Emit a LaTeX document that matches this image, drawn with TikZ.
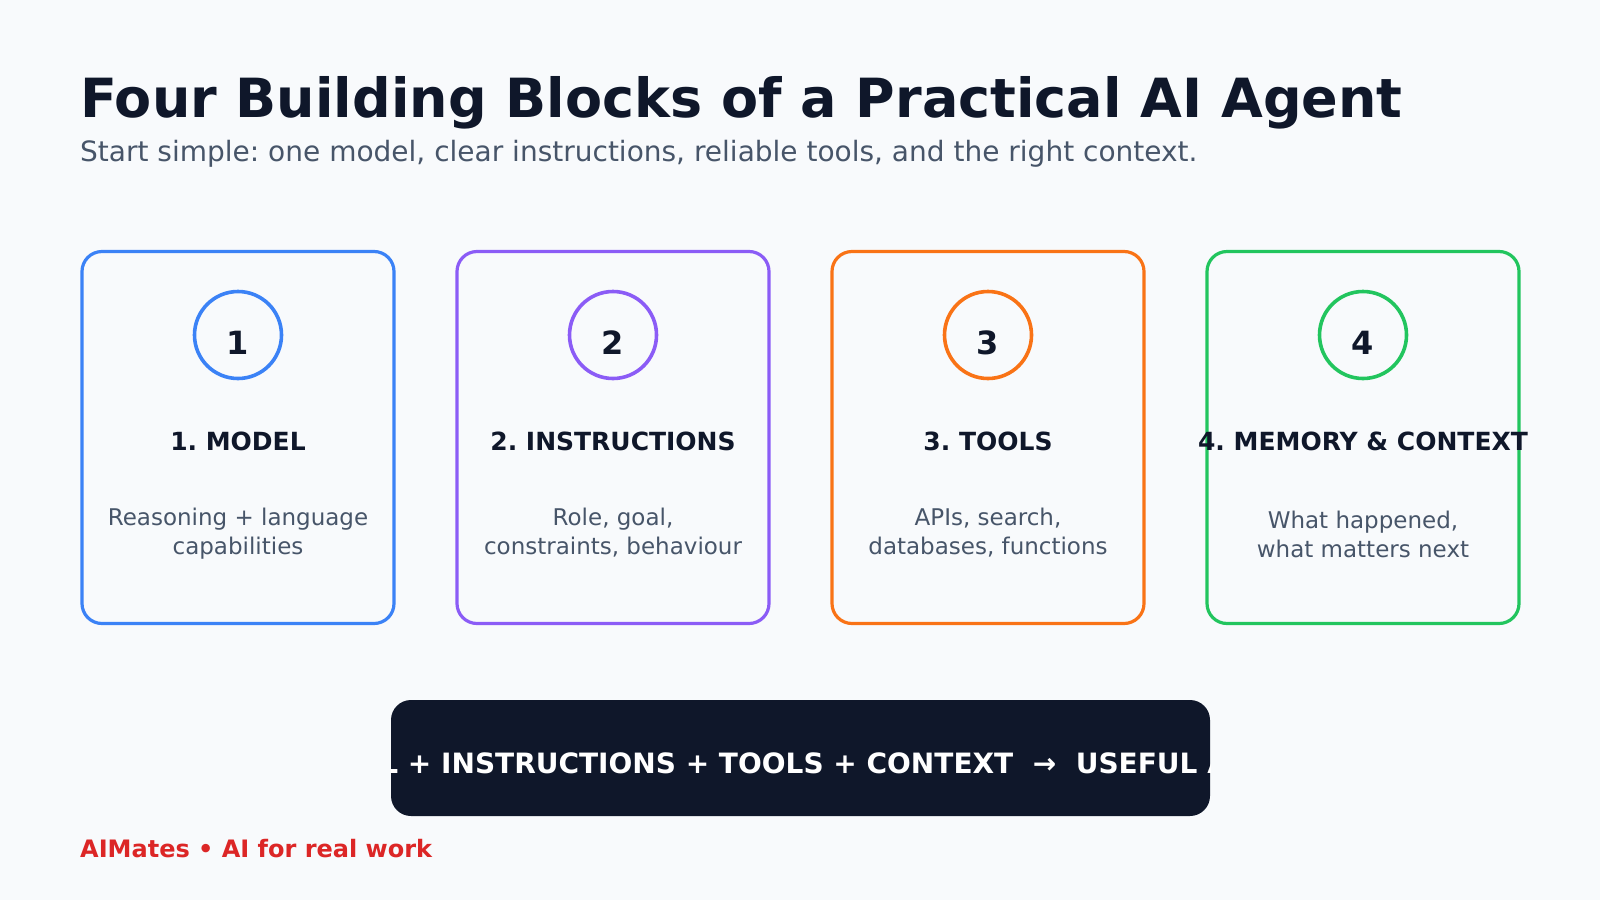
\documentclass[tikz,border=0pt]{standalone}
\usepackage{fontspec}
\setmainfont{DejaVu Sans}
\definecolor{bg}{HTML}{F8FAFC}
\definecolor{ink}{HTML}{0F172A}
\definecolor{muted}{HTML}{475569}
\definecolor{cblue}{HTML}{3B82F6}
\definecolor{cpurple}{HTML}{8B5CF6}
\definecolor{corange}{HTML}{F97316}
\definecolor{cgreen}{HTML}{22C55E}
\definecolor{cred}{HTML}{DC2626}
\newcommand{\fsz}[1]{\fontsize{#1}{#1}\selectfont}
\tikzset{
  card/.style={draw=#1, line width=3.2pt, rounded corners=20pt, minimum width=312pt, minimum height=372pt, inner sep=0pt, fill=bg},
  badge/.style={draw=#1, circle, line width=3.6pt, minimum size=87pt, inner sep=0pt},
  numtxt/.style={anchor=base, inner sep=0pt, text=ink, font=\fsz{32}\bfseries},
  headtxt/.style={anchor=base, inner sep=0pt, text=ink, font=\fsz{25}\bfseries},
  desctxt/.style={anchor=north, inner sep=0pt, text=muted, align=center, font=\fontsize{23}{29}\selectfont},
}
\begin{document}
\frenchspacing
\begin{tikzpicture}[x=1pt,y=-1pt]
\useasboundingbox[fill=bg] (0,0) rectangle (1600,900);
\node[anchor=base west, inner sep=0pt, text=ink, font=\fsz{54}\bfseries] (title) at (80,117) {Four Building Blocks of a Practical AI Agent};
\node[anchor=base west, inner sep=0pt, text=muted, font=\fsz{28}] (sub) at (80,161) {Start simple: one model, clear instructions, reliable tools, and the right context.};

\foreach \i/\col/\num/\head/\desc/\dy in {
  0/cblue/1/1. MODEL/{Reasoning + language\\capabilities}/0,
  1/cpurple/2/2. INSTRUCTIONS/{Role, goal,\\constraints, behaviour}/0,
  2/corange/3/3. TOOLS/{APIs, search,\\databases, functions}/0,
  3/cgreen/4/4. MEMORY \& CONTEXT/{What happened,\\what matters next}/3}{
  \pgfmathsetmacro{\cx}{238+375*\i}
  \node[card=\col] (card\num) at (\cx,437.5) {};
  \node[badge=\col] (badge\num) at (\cx,335) {};
  \node[numtxt] (num\num) at (\cx,354) {\num};
  \node[headtxt] (head\num) at (\cx,450) {\head};
  \node[desctxt] (desc\num) at (\cx,508+\dy) {\desc};
}

\fill[ink, rounded corners=20pt] (391,700) rectangle (1210,816);
\begin{scope}
\clip[rounded corners=20pt] (391,700) rectangle (1210,816);
\node[anchor=base, inner sep=0pt, text=white, font=\fsz{28}\bfseries] (bar) at (800,773) {MODEL + INSTRUCTIONS + TOOLS + CONTEXT\ \ →\ \ USEFUL AGENT};
\end{scope}

\node[anchor=base west, inner sep=0pt, text=cred, font=\fsz{24}\bfseries] (foot) at (80,857) {AIMates • AI for real work};
\end{tikzpicture}
\end{document}
